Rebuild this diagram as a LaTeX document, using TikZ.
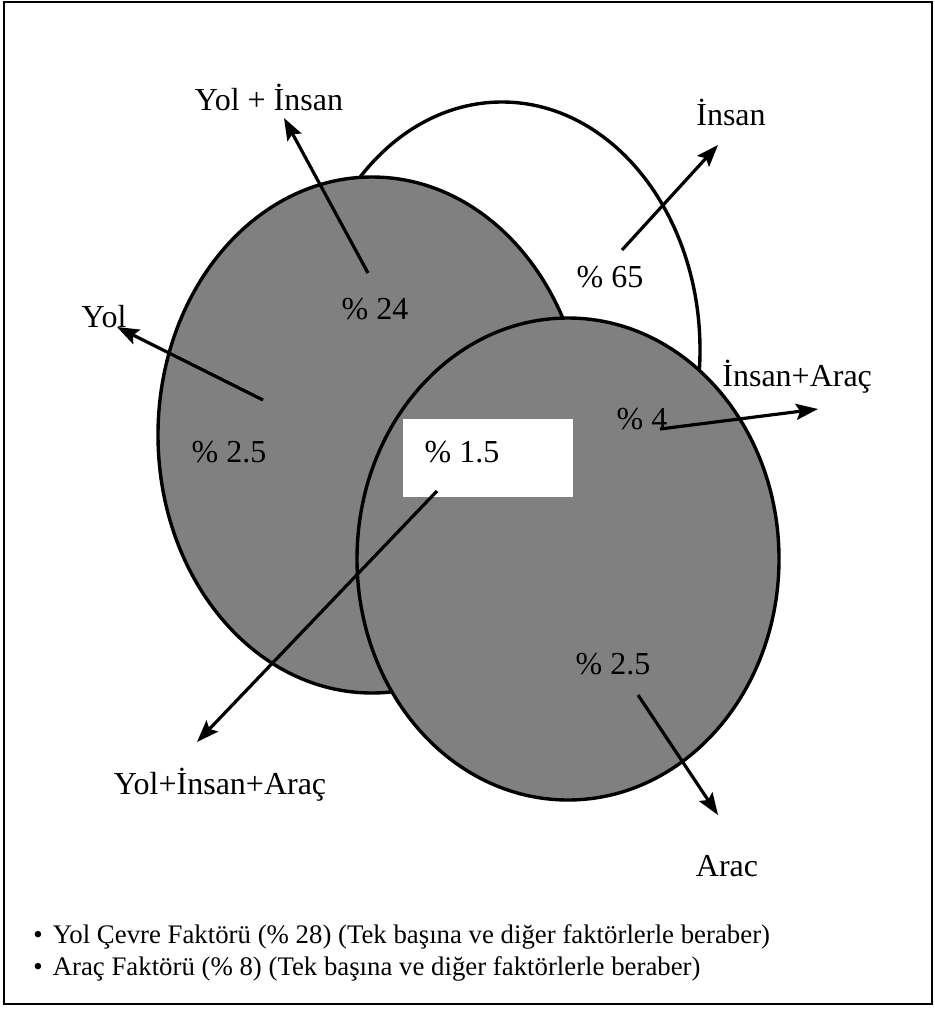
\documentclass[tikz,border=0pt]{standalone}
\usepackage{fontspec}
\setmainfont{Liberation Serif}
\usetikzlibrary{arrows.meta}
\begin{document}
\begin{tikzpicture}[x=0.5pt,y=-0.5pt,>={Stealth[length=11pt,width=8pt,inset=2pt]}]
  \tikzset{
    lbl/.style={font=\fontsize{16}{19}\selectfont,inner sep=0pt},
    note/.style={font=\fontsize{13.4}{16}\selectfont,inner sep=0pt,anchor=west},
    ring/.style={line width=1.7pt},
    pointer/.style={->,line width=1.6pt}
  }
  \useasboundingbox (0,0) rectangle (935,1010);
  \draw[line width=0.8pt] (4,2) rectangle (932,1004);
  % the three sets
  \draw[ring,fill=white] (502,350) ellipse [x radius=198,y radius=248];
  \draw[ring,fill=gray] (372,435) ellipse [x radius=214,y radius=258];
  \draw[ring,fill=gray] (568,559) ellipse [x radius=211,y radius=241];
  \fill[white] (403,419) rectangle (573,497);
  % percentages
  \node[lbl] (p24) at (375,309) {\% 24};
  \node[lbl] (p25a) at (229,452) {\% 2.5};
  \node[lbl] (p15) at (462,452) {\% 1.5};
  \node[lbl] (p65) at (610,277) {\% 65};
  \node[lbl] (p4) at (642,419) {\% 4};
  \node[lbl] (p25b) at (613,664) {\% 2.5};
  % names
  \node[lbl] (yolinsan) at (269,97) {Yol + İnsan};
  \node[lbl] (yol) at (104,317) {Yol};
  \node[lbl] (insan) at (731,112) {İnsan};
  \node[lbl,anchor=west] (insanarac) at (722,377) {İnsan+Araç};
  \node[lbl] (hepsi) at (220,785) {Yol+İnsan+Araç};
  \node[lbl] (arac) at (727,866) {Arac};
  % pointers
  \coordinate (yolinsan-s) at (368,273);
  \coordinate (yolinsan-t) at (284,118);
  \coordinate (yol-s) at (263,400);
  \coordinate (yol-t) at (117,327);
  \coordinate (insan-s) at (622,250);
  \coordinate (insan-t) at (718,145);
  \coordinate (insanarac-s) at (660,429);
  \coordinate (insanarac-t) at (818,409);
  \coordinate (hepsi-s) at (437,491);
  \coordinate (hepsi-t) at (197,742);
  \coordinate (arac-s) at (638,695);
  \coordinate (arac-t) at (718,815);
  \draw[pointer] (yolinsan-s) -- (yolinsan-t);
  \draw[pointer] (yol-s) -- (yol-t);
  \draw[pointer] (insan-s) -- (insan-t);
  \draw[pointer] (insanarac-s) -- (insanarac-t);
  \draw[pointer] (hepsi-s) -- (hepsi-t);
  \draw[pointer] (arac-s) -- (arac-t);
  % notes
  \node[note] (n1) at (33,937) {\textbullet\hspace{5pt}Yol Çevre Faktörü (\% 28) (Tek başına ve diğer faktörlerle beraber)};
  \node[note] (n2) at (33,969) {\textbullet\hspace{5pt}Araç Faktörü (\% 8) (Tek başına ve diğer faktörlerle beraber)};
\end{tikzpicture}
\end{document}
